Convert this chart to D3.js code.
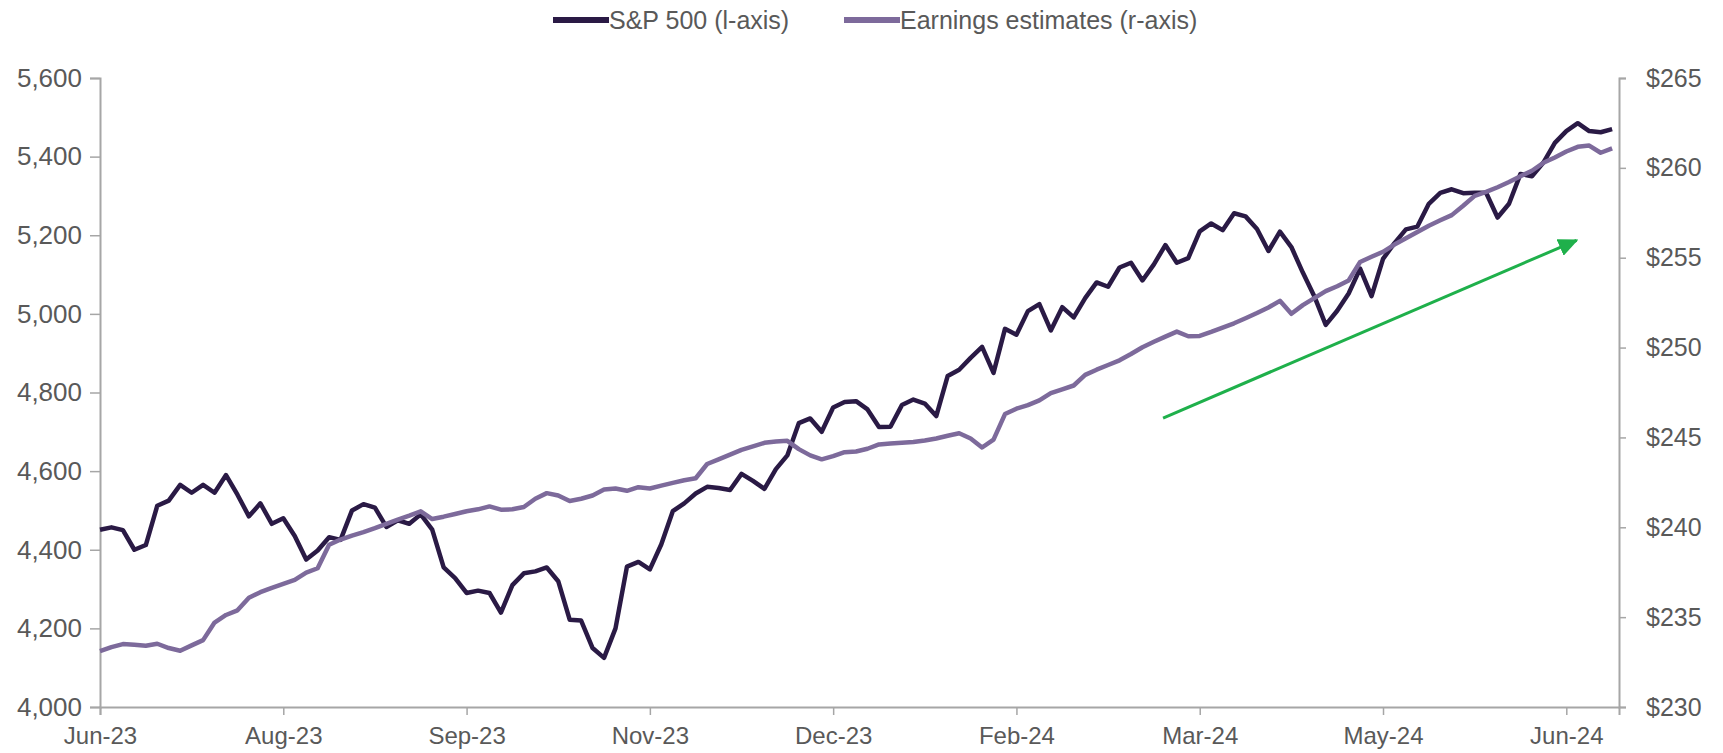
<!DOCTYPE html>
<html>
<head>
<meta charset="utf-8">
<script src="https://cdn.jsdelivr.net/npm/d3@7/dist/d3.min.js"></script>
<style>
  body { margin: 0; background: #fff; }
  svg text { font-family: "Liberation Sans", Arial, sans-serif; fill: #595959; }
</style>
</head>
<body>
<svg id="chart"></svg>
<script>
// x axis labels, every 16 points (points are 2 trading days apart)
var xLabels = ['Jun-23', 'Aug-23', 'Sep-23', 'Nov-23', 'Dec-23', 'Feb-24', 'Mar-24', 'May-24', 'Jun-24'];
var xTickIdx = [0, 16, 32, 48, 64, 80, 96, 112, 128];

var leftTicks = [4000, 4200, 4400, 4600, 4800, 5000, 5200, 5400, 5600];
var rightTicks = [230, 235, 240, 245, 250, 255, 260, 265];

// S&P 500 (l-axis)
var spx = [4451, 4457, 4450, 4400, 4412, 4512, 4525, 4565, 4545, 4565,
  4545, 4590, 4540, 4485, 4518, 4466, 4480, 4435, 4375, 4398,
  4432, 4425, 4500, 4516, 4507, 4458, 4475, 4466, 4490, 4451,
  4355, 4328, 4290, 4296, 4290, 4240, 4310, 4340, 4345, 4355,
  4320, 4222, 4220, 4150, 4125, 4200, 4357, 4369, 4350, 4414,
  4498, 4518, 4543, 4560, 4557, 4552, 4593, 4575, 4555, 4605,
  4640, 4722, 4734, 4700, 4762, 4776, 4778, 4757, 4712, 4713,
  4768, 4782, 4772, 4740, 4842, 4858, 4888, 4916, 4850, 4962,
  4947, 5007, 5025, 4958, 5017, 4991, 5040, 5080, 5069, 5118,
  5130, 5085, 5126, 5175, 5130, 5142, 5210, 5230, 5213, 5256,
  5248, 5216, 5160, 5209, 5170, 5105, 5045, 4972, 5008, 5052,
  5115, 5045, 5140, 5180, 5215, 5222, 5280, 5308, 5317, 5307,
  5308, 5308, 5245, 5280, 5356, 5350, 5385, 5435, 5465, 5485,
  5465, 5462, 5470];

// Earnings estimates (r-axis), $
var eps = [233.11, 233.33, 233.50, 233.46, 233.41, 233.52, 233.28, 233.13, 233.43, 233.72,
  234.70, 235.12, 235.38, 236.08, 236.39, 236.63, 236.85, 237.07, 237.48, 237.72,
  239.03, 239.32, 239.54, 239.73, 239.95, 240.19, 240.43, 240.65, 240.89, 240.46,
  240.59, 240.74, 240.89, 241.00, 241.16, 240.98, 241.00, 241.13, 241.59, 241.90,
  241.77, 241.46, 241.59, 241.77, 242.10, 242.16, 242.03, 242.23, 242.16, 242.32,
  242.47, 242.62, 242.73, 243.52, 243.78, 244.04, 244.31, 244.50, 244.70, 244.77,
  244.81, 244.35, 244.00, 243.78, 243.96, 244.18, 244.22, 244.37, 244.61, 244.66,
  244.70, 244.74, 244.83, 244.94, 245.09, 245.23, 244.94, 244.44, 244.88, 246.30,
  246.60, 246.80, 247.06, 247.46, 247.68, 247.89, 248.48, 248.77, 249.03, 249.29,
  249.64, 250.02, 250.32, 250.61, 250.89, 250.63, 250.65, 250.87, 251.11, 251.35,
  251.63, 251.92, 252.23, 252.60, 251.88, 252.36, 252.75, 253.14, 253.41, 253.73,
  254.76, 255.05, 255.33, 255.73, 256.08, 256.43, 256.78, 257.08, 257.37, 257.89,
  258.44, 258.66, 258.92, 259.21, 259.53, 259.84, 260.28, 260.58, 260.91, 261.17,
  261.24, 260.84, 261.08];

// green trend arrow, [point index, S&P level]
var arrowFrom = [92.8, 4735];
var arrowTo = [128.9, 5187];

var svgWidth = 1723, svgHeight = 753;
var plotLeft = 100, plotRight = 1619, plotTop = 78, plotBottom = 707;

var spxColor = '#2a1a45', epsColor = '#7d6a9b', axisColor = '#a6a6a6';

var svg = d3.select('#chart')
  .attr('width', svgWidth)
  .attr('height', svgHeight);

var x = d3.scaleLinear()
  .domain([0, spx.length - 1 + 0.6])
  .range([plotLeft, plotRight]);

var yL = d3.scaleLinear()
  .domain([4000, 5600])
  .range([plotBottom, plotTop]);

var yR = d3.scaleLinear()
  .domain([230, 265])
  .range([plotBottom, plotTop]);

// axes
var xAxis = svg.append('g')
  .attr('transform', 'translate(0,' + plotBottom + ')')
  .call(d3.axisBottom(x)
    .tickValues(xTickIdx)
    .tickSizeOuter(0)
    .tickSize(8)
    .tickPadding(12)
    .tickFormat(function(d, i) { return xLabels[i]; }));

var yAxisL = svg.append('g')
  .attr('transform', 'translate(' + plotLeft + ',0)')
  .call(d3.axisLeft(yL)
    .tickValues(leftTicks)
    .tickSizeOuter(0)
    .tickSize(10)
    .tickPadding(8)
    .tickFormat(d3.format(',')));

var yAxisR = svg.append('g')
  .attr('transform', 'translate(' + plotRight + ',0)')
  .call(d3.axisRight(yR)
    .tickValues(rightTicks)
    .tickSizeOuter(0)
    .tickSize(7)
    .tickPadding(20)
    .tickFormat(function(d) { return '$' + d; }));

[xAxis, yAxisL, yAxisR].forEach(function(g) {
  g.selectAll('path.domain').attr('stroke', axisColor).attr('stroke-width', 2);
  g.selectAll('.tick line').attr('stroke', axisColor).attr('stroke-width', 1.5);
  g.selectAll('.tick text').attr('fill', '#595959');
});
xAxis.selectAll('.tick text').style('font-size', '24px');
yAxisL.selectAll('.tick text').style('font-size', '26px');
yAxisR.selectAll('.tick text').style('font-size', '25px');

// lines
var spxLine = d3.line()
  .x(function(d, i) { return x(i); })
  .y(function(d) { return yL(d); });

var epsLine = d3.line()
  .x(function(d, i) { return x(i); })
  .y(function(d) { return yR(d); });

svg.append('path')
  .datum(spx)
  .attr('fill', 'none')
  .attr('stroke', spxColor)
  .attr('stroke-width', 4.5)
  .attr('stroke-linejoin', 'round')
  .attr('d', spxLine);

svg.append('path')
  .datum(eps)
  .attr('fill', 'none')
  .attr('stroke', epsColor)
  .attr('stroke-width', 4.5)
  .attr('stroke-linejoin', 'round')
  .attr('d', epsLine);

// trend arrow
svg.append('defs').append('marker')
  .attr('id', 'arrowhead')
  .attr('markerUnits', 'userSpaceOnUse')
  .attr('markerWidth', 20)
  .attr('markerHeight', 18)
  .attr('refX', 18)
  .attr('refY', 9)
  .attr('orient', 'auto')
  .append('path')
  .attr('d', 'M0,0 L20,9 L0,18 Z')
  .attr('fill', '#1fb04b');

svg.append('line')
  .attr('x1', x(arrowFrom[0]))
  .attr('y1', yL(arrowFrom[1]))
  .attr('x2', x(arrowTo[0]))
  .attr('y2', yL(arrowTo[1]))
  .attr('stroke', '#1fb04b')
  .attr('stroke-width', 3)
  .attr('marker-end', 'url(#arrowhead)');

// legend
var legendItems = [
  { name: 'S&P 500 (l-axis)', color: spxColor, x: 553 },
  { name: 'Earnings estimates (r-axis)', color: epsColor, x: 844 }
];

var legend = svg.selectAll('g.legend')
  .data(legendItems)
  .enter()
  .append('g')
  .attr('class', 'legend')
  .attr('transform', function(d) { return 'translate(' + d.x + ',20)'; });

legend.append('line')
  .attr('x1', 0)
  .attr('x2', 56)
  .attr('stroke', function(d) { return d.color; })
  .attr('stroke-width', 6);

legend.append('text')
  .attr('x', 56)
  .attr('dy', '0.35em')
  .style('font-size', '25px')
  .text(function(d) { return d.name; });
</script>
</body>
</html>
